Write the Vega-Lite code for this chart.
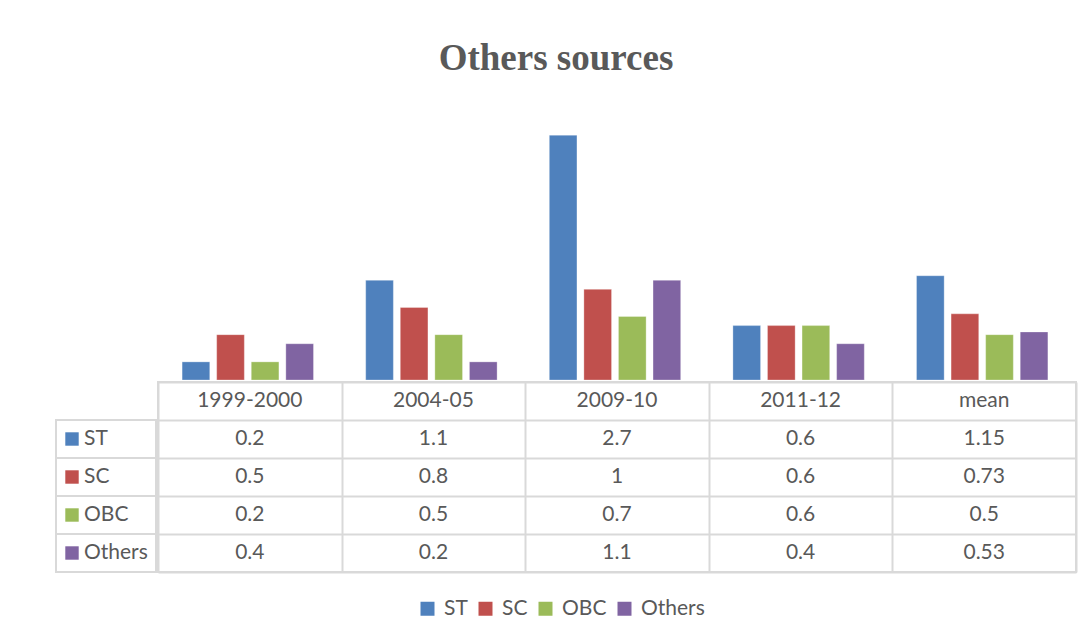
{
  "$schema": "https://vega.github.io/schema/vega-lite/v6.json",
  "padding": {"left": 55, "top": 40, "right": 16, "bottom": 10},
  "background": "white",
  "title": {"text": "Others sources", "font": "Liberation Serif", "fontSize": 37, "fontWeight": "bold", "color": "#595959", "anchor": "middle", "dx": -10, "offset": 30},
  "datasets": {
    "main": [
      {"year": "1999-2000", "series": "ST", "value": 0.2},
      {"year": "1999-2000", "series": "SC", "value": 0.5},
      {"year": "1999-2000", "series": "OBC", "value": 0.2},
      {"year": "1999-2000", "series": "Others", "value": 0.4},
      {"year": "2004-05", "series": "ST", "value": 1.1},
      {"year": "2004-05", "series": "SC", "value": 0.8},
      {"year": "2004-05", "series": "OBC", "value": 0.5},
      {"year": "2004-05", "series": "Others", "value": 0.2},
      {"year": "2009-10", "series": "ST", "value": 2.7},
      {"year": "2009-10", "series": "SC", "value": 1},
      {"year": "2009-10", "series": "OBC", "value": 0.7},
      {"year": "2009-10", "series": "Others", "value": 1.1},
      {"year": "2011-12", "series": "ST", "value": 0.6},
      {"year": "2011-12", "series": "SC", "value": 0.6},
      {"year": "2011-12", "series": "OBC", "value": 0.6},
      {"year": "2011-12", "series": "Others", "value": 0.4},
      {"year": "mean", "series": "ST", "value": 1.15},
      {"year": "mean", "series": "SC", "value": 0.73},
      {"year": "mean", "series": "OBC", "value": 0.5},
      {"year": "mean", "series": "Others", "value": 0.53}
    ],
    "series": [
      {"series": "ST"}, {"series": "SC"}, {"series": "OBC"}, {"series": "Others"}
    ]
  },
  "spacing": 0,
  "vconcat": [
    {
      "spacing": 0,
      "hconcat": [
        {
          "width": 100, "height": 272,
          "view": {"stroke": null},
          "data": {"values": [{"t": ""}]},
          "mark": {"type": "text"},
          "encoding": {"text": {"field": "t", "type": "nominal"}}
        },
        {
          "width": 918, "height": 272,
          "view": {"stroke": null},
          "data": {"name": "main"},
          "mark": {"type": "bar", "stroke": "white", "strokeOpacity": 0.3, "strokeWidth": 1},
          "encoding": {
            "x": {"field": "year", "type": "nominal", "sort": ["1999-2000", "2004-05", "2009-10", "2011-12", "mean"], "scale": {"paddingInner": 0, "paddingOuter": 0}, "axis": null},
            "xOffset": {"field": "series", "type": "nominal", "sort": ["ST", "SC", "OBC", "Others"], "scale": {"paddingInner": 0.2, "paddingOuter": 0.755}},
            "y": {"field": "value", "type": "quantitative", "scale": {"domain": [0, 3]}, "axis": null},
            "color": {
              "field": "series", "type": "nominal",
              "scale": {"domain": ["ST", "SC", "OBC", "Others"], "range": ["#4f81bd", "#c0504d", "#9bbb59", "#8064a2"]},
              "legend": {"orient": "none", "legendX": 361, "legendY": 490, "direction": "horizontal", "title": null, "symbolType": "square", "symbolSize": 196, "symbolStrokeWidth": 0, "symbolOpacity": 1, "labelFont": "Lato", "labelFontSize": 21, "labelColor": "#595959", "labelOffset": 6, "columnPadding": 7}
            }
          }
        }
      ]
    },
    {
      "spacing": 0,
      "hconcat": [
        {
          "width": 100, "height": 190,
          "view": {"stroke": null},
          "data": {"name": "series"},
          "layer": [
            {
              "mark": {"type": "rect", "fill": "white", "stroke": "#d9d9d9", "strokeWidth": 2},
              "encoding": {
                "y": {"field": "series", "type": "nominal", "scale": {"domain": ["header", "ST", "SC", "OBC", "Others"], "paddingInner": 0, "paddingOuter": 0}, "axis": null}
              }
            },
            {
              "mark": {"type": "square", "size": 180, "opacity": 1, "xOffset": -34},
              "encoding": {
                "y": {"field": "series", "type": "nominal", "axis": null},
                "fill": {"field": "series", "type": "nominal", "scale": {"domain": ["ST", "SC", "OBC", "Others"], "range": ["#4f81bd", "#c0504d", "#9bbb59", "#8064a2"]}, "legend": null}
              }
            },
            {
              "mark": {"type": "text", "align": "left", "baseline": "middle", "dx": -22, "font": "Lato", "fontSize": 21, "color": "#595959"},
              "encoding": {
                "y": {"field": "series", "type": "nominal", "axis": null},
                "text": {"field": "series", "type": "nominal"}
              }
            }
          ]
        },
        {
          "width": 918, "height": 190,
          "view": {"stroke": "#d9d9d9", "strokeWidth": 2},
          "data": {"name": "main"},
          "layer": [
            {
              "transform": [{"aggregate": [], "groupby": ["year"]}],
              "mark": {"type": "text", "baseline": "middle", "font": "Lato", "fontSize": 21, "color": "#595959"},
              "encoding": {
                "x": {"field": "year", "type": "nominal", "sort": ["1999-2000", "2004-05", "2009-10", "2011-12", "mean"], "scale": {"paddingInner": 0, "paddingOuter": 0}, "axis": {"title": null, "domain": false, "ticks": false, "labels": false, "grid": true, "gridColor": "#d9d9d9", "gridWidth": 2, "tickBand": "extent"}},
                "y": {"datum": "header", "type": "nominal", "scale": {"domain": ["header", "ST", "SC", "OBC", "Others"], "paddingInner": 0, "paddingOuter": 0}, "axis": {"title": null, "domain": false, "ticks": false, "labels": false, "grid": true, "gridColor": "#d9d9d9", "gridWidth": 2, "tickBand": "extent"}},
                "text": {"field": "year", "type": "nominal"}
              }
            },
            {
              "mark": {"type": "text", "baseline": "middle", "font": "Lato", "fontSize": 21, "color": "#595959"},
              "encoding": {
                "x": {"field": "year", "type": "nominal", "sort": ["1999-2000", "2004-05", "2009-10", "2011-12", "mean"], "axis": {"title": null, "domain": false, "ticks": false, "labels": false, "grid": true, "gridColor": "#d9d9d9", "gridWidth": 2, "tickBand": "extent"}},
                "y": {"field": "series", "type": "nominal", "axis": {"title": null, "domain": false, "ticks": false, "labels": false, "grid": true, "gridColor": "#d9d9d9", "gridWidth": 2, "tickBand": "extent"}},
                "text": {"field": "value", "type": "nominal"}
              }
            }
          ]
        }
      ]
    }
  ]
}
